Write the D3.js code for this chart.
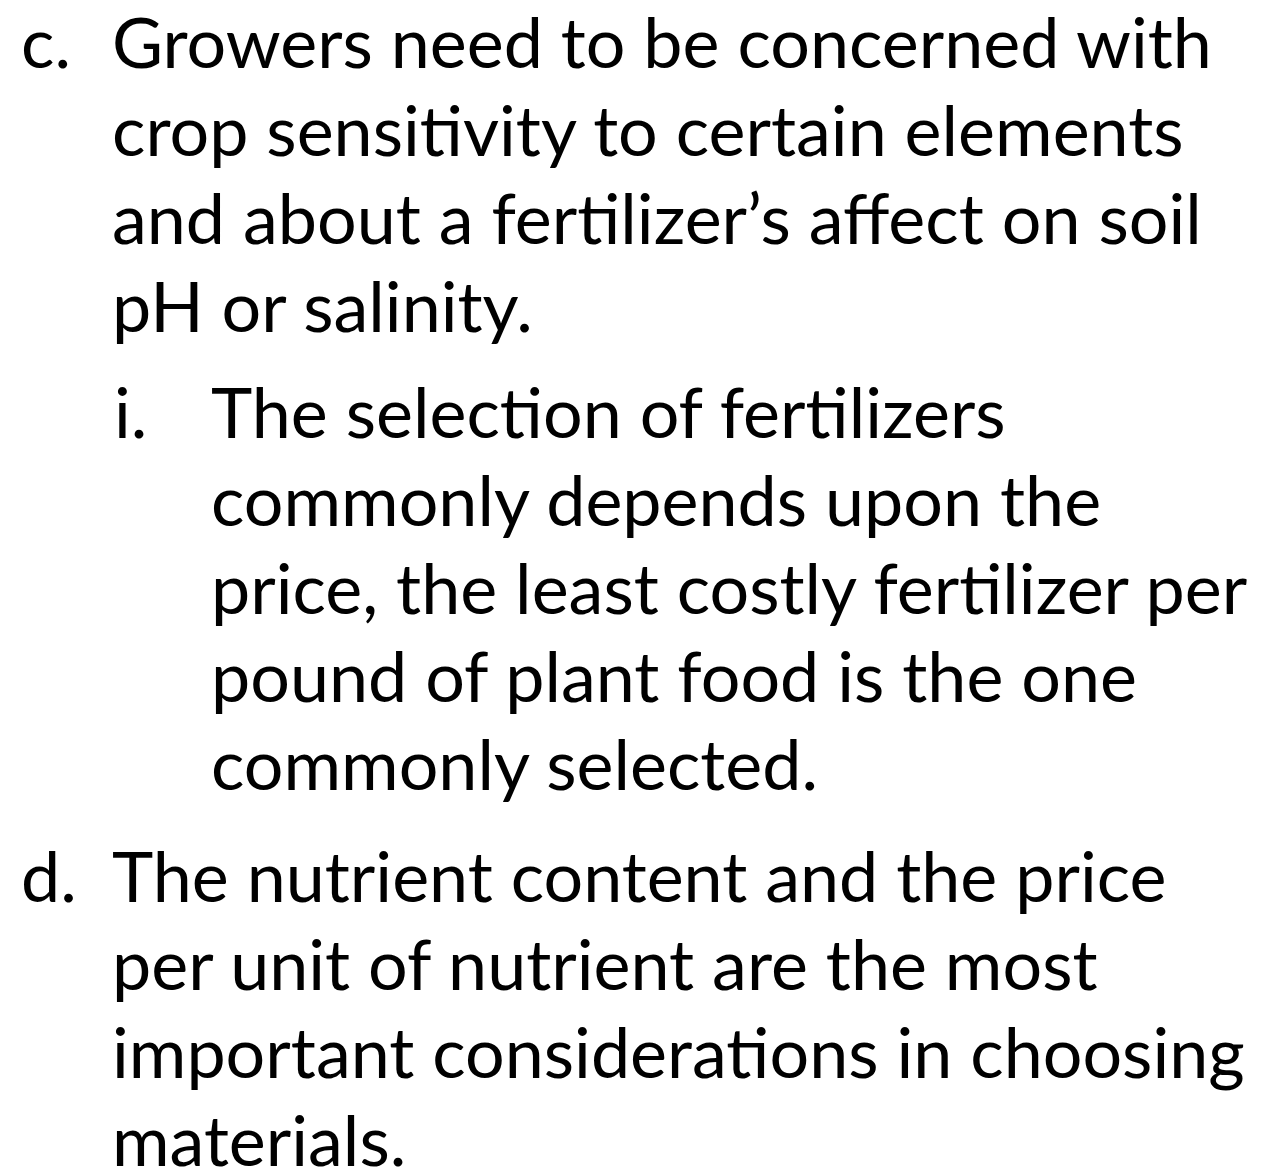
<!DOCTYPE html>
<html>
<head>
<meta charset="utf-8">
<script src="https://cdn.jsdelivr.net/npm/d3@7"></script>
<style>
  html, body { margin: 0; padding: 0; background: #fff; }
  svg { display: block; }
</style>
</head>
<body>
<div id="slide"></div>
<script>
// slide content, one entry per paragraph
const labels = ['c.', 'i.', 'd.'];
const levels = [0, 1, 0];
const paraLines = [
  ['Growers need to be concerned with',
   'crop sensitivity to certain elements',
   'and about a fertilizer\u2019s affect on soil',
   'pH or salinity.'],
  ['The selection of fertilizers',
   'commonly depends upon the',
   'price, the least costly fertilizer per',
   'pound of plant food is the one',
   'commonly selected.'],
  ['The nutrient content and the price',
   'per unit of nutrient are the most',
   'important considerations in choosing',
   'materials.']
];

const W = 1263, H = 1175;
const fontSize = 70;
const lineStep = 88;
// extra space before each paragraph, px
const paraGap = [0, 18, 24];

// flatten to rows with a running slot position (in line units)
let slot = 0;
const rows = [];
paraLines.forEach((lines, p) => {
  slot += paraGap[p] / lineStep;
  lines.forEach((txt, i) => {
    rows.push({ p, i, txt, pos: slot });
    slot += 1;
  });
});

const y = d3.scaleLinear()
  .domain([0, 1])
  .range([68, 68 + lineStep]);

const labelX = d3.scaleOrdinal().domain([0, 1]).range([21, 114]);
const textX = d3.scaleOrdinal().domain([0, 1]).range([112, 211]);

const svg = d3.select('#slide').append('svg')
  .attr('width', W)
  .attr('height', H);

svg.append('rect')
  .attr('width', W)
  .attr('height', H)
  .attr('fill', '#fff');

const g = svg.append('g')
  .attr('font-family', 'Lato, "Noto Sans", sans-serif')
  .attr('font-size', fontSize)
  .attr('fill', '#000');

g.selectAll('text.label')
  .data(rows.filter(d => d.i === 0))
  .join('text')
    .attr('class', 'label')
    .attr('x', d => labelX(levels[d.p]))
    .attr('y', d => y(d.pos))
    .text(d => labels[d.p]);

g.selectAll('text.line')
  .data(rows)
  .join('text')
    .attr('class', 'line')
    .attr('x', d => textX(levels[d.p]))
    .attr('y', d => y(d.pos))
    .text(d => d.txt);
</script>
</body>
</html>
